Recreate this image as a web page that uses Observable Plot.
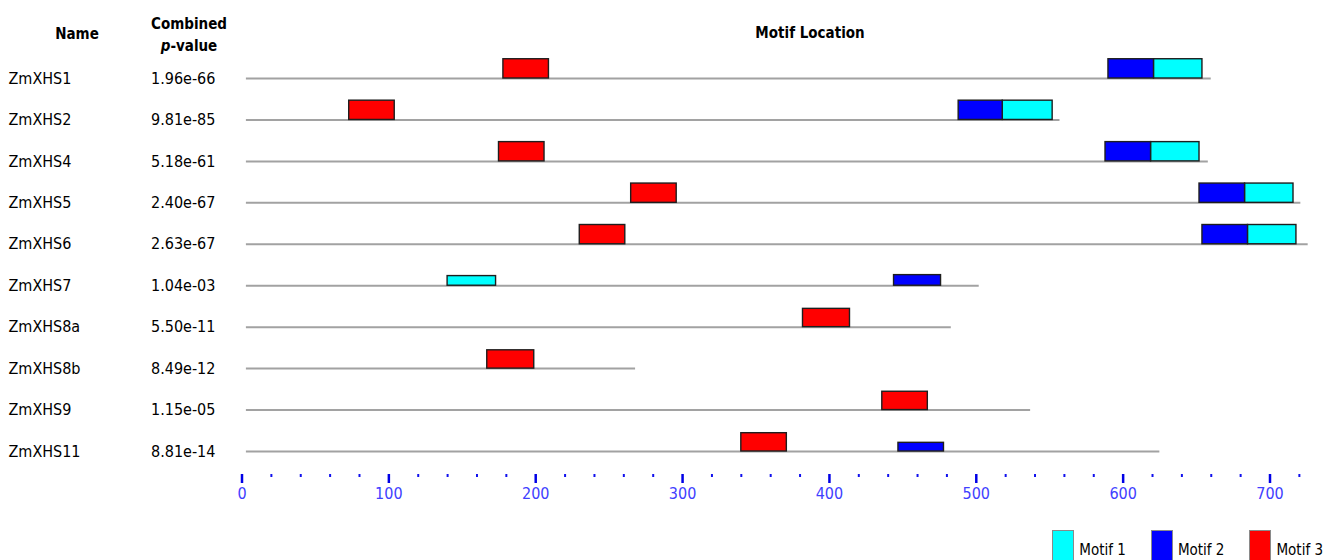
<!DOCTYPE html>
<html>
<head>
<meta charset="utf-8">
<script src="https://cdn.jsdelivr.net/npm/d3@7"></script>
<script src="https://cdn.jsdelivr.net/npm/@observablehq/plot@0.6"></script>
<style>
  body { margin: 0; background: #fff; }
  #wrap { position: relative; width: 1338px; font-family: "DejaVu Sans Condensed", "DejaVu Sans", sans-serif; }
  .hdr { position: absolute; font-weight: bold; font-size: 15px; line-height: 22px; text-align: center; transform: translate(-50%, -50%); white-space: nowrap; color: #000; }
  #legend { position: relative; height: 30px; display: flex; justify-content: flex-end; padding-right: 15px; overflow: visible; }
  .item { display: flex; align-items: flex-start; margin-left: 25px; }
  .sw { width: 22px; height: 34px; border: 1px solid #8a8a8a; box-sizing: border-box; margin-right: 5px; }
  .lbl { font-size: 15px; line-height: 20px; padding-top: 10px; color: #000; }
</style>
</head>
<body>
<div id="wrap">
  <div class="hdr" style="left:77px; top:34px;">Name</div>
  <div class="hdr" style="left:189px; top:35px;">Combined<br><i>p</i>-value</div>
  <div class="hdr" style="left:810px; top:33px;">Motif Location</div>
  <div id="chart"></div>
  <div id="legend"></div>
</div>
<script>
// Sequences, top to bottom
const names = ["ZmXHS1", "ZmXHS2", "ZmXHS4", "ZmXHS5", "ZmXHS6", "ZmXHS7", "ZmXHS8a", "ZmXHS8b", "ZmXHS9", "ZmXHS11"];
const pValues = ["1.96e-66", "9.81e-85", "5.18e-61", "2.40e-67", "2.63e-67", "1.04e-03", "5.50e-11", "8.49e-12", "1.15e-05", "8.81e-14"];
const seqLengths = [660, 557, 658, 721, 726, 502, 483, 268, 537, 625];
const seqStart = 3;

// Motif sites: [gene, start, end, relative site strength]
const motif1Sites = [
  ["ZmXHS1", 621, 654, 1], ["ZmXHS2", 518, 552, 1], ["ZmXHS4", 619, 652, 1],
  ["ZmXHS5", 683, 716, 1], ["ZmXHS6", 685, 718, 1], ["ZmXHS7", 140, 173, 0.5]
];
const motif2Sites = [
  ["ZmXHS1", 590, 621, 1], ["ZmXHS2", 488, 518, 1], ["ZmXHS4", 588, 619, 1],
  ["ZmXHS5", 652, 683, 1], ["ZmXHS6", 654, 685, 1], ["ZmXHS7", 444, 476, 0.55],
  ["ZmXHS11", 447, 478, 0.45]
];
const motif3Sites = [
  ["ZmXHS1", 178, 209, 1], ["ZmXHS2", 73, 104, 1], ["ZmXHS4", 175, 206, 1],
  ["ZmXHS5", 265, 296, 1], ["ZmXHS6", 230, 261, 1], ["ZmXHS8a", 382, 414, 0.95],
  ["ZmXHS8b", 167, 199, 0.95], ["ZmXHS9", 436, 467, 0.95], ["ZmXHS11", 340, 371, 0.95]
];

const motifNames = ["Motif 1", "Motif 2", "Motif 3"];
const motifColors = ["#00ffff", "#0000ff", "#ff0000"];
const majorTicks = [0, 100, 200, 300, 400, 500, 600, 700];
const minorTicks = d3.range(20, 740, 20).filter(v => v % 100 !== 0);

const rows = names.map((name, i) => ({i, name, p: pValues[i], len: seqLengths[i]}));
const rowIndex = new Map(names.map((n, i) => [n, i]));
const sites = [motif1Sites, motif2Sites, motif3Sites].flatMap((list, m) =>
  list.map(([gene, start, end, strength]) => ({i: rowIndex.get(gene), motif: motifNames[m], start, end, strength}))
);

const boxDepth = 0.465; // full-strength box height, in row units
const font = '"DejaVu Sans Condensed", "DejaVu Sans", sans-serif';

const chart = Plot.plot({
  width: 1338,
  height: 530,
  marginLeft: 241.5,
  marginRight: 68.5,
  marginTop: 0,
  marginBottom: 56,
  style: {fontFamily: font, fontSize: "16px", color: "#000", background: "#fff"},
  x: {domain: [0, 700]},
  y: {domain: [0, names.length - 1], range: [78, 451], axis: null},
  color: {domain: motifNames, range: motifColors},
  marks: [
    Plot.ruleY(rows, {y: "i", x1: seqStart, x2: "len", stroke: "#a2a2a2", strokeWidth: 2}),
    Plot.rect(sites, {
      x1: "start", x2: "end",
      y1: "i", y2: d => d.i - d.strength * boxDepth,
      fill: "motif", stroke: "#1e1e1e", strokeWidth: 1.4
    }),
    Plot.text(rows, {y: "i", text: "name", frameAnchor: "left", dx: -233.5, textAnchor: "start", fontSize: 16, fill: "#000"}),
    Plot.text(rows, {y: "i", text: "p", frameAnchor: "left", dx: -91, textAnchor: "start", fontSize: 16, fill: "#000"}),
    Plot.axisX(minorTicks, {anchor: "bottom", tickSize: 3, tickFormat: () => "", stroke: "#1010ee", strokeWidth: 2, label: null}),
    Plot.axisX(majorTicks, {
      anchor: "bottom", tickSize: 9, tickPadding: 4, tickFormat: d => String(d),
      stroke: "#0000e6", strokeWidth: 2.5, fill: "#4040ff", fontSize: 16, label: null
    })
  ]
});
document.getElementById("chart").appendChild(chart);

// Legend: one swatch per motif
const legend = d3.select("#legend");
motifNames.forEach((name, k) => {
  const item = legend.append("div").attr("class", "item");
  item.append("div").attr("class", "sw").style("background", motifColors[k]);
  item.append("div").attr("class", "lbl").text(name);
});
</script>
</body>
</html>
